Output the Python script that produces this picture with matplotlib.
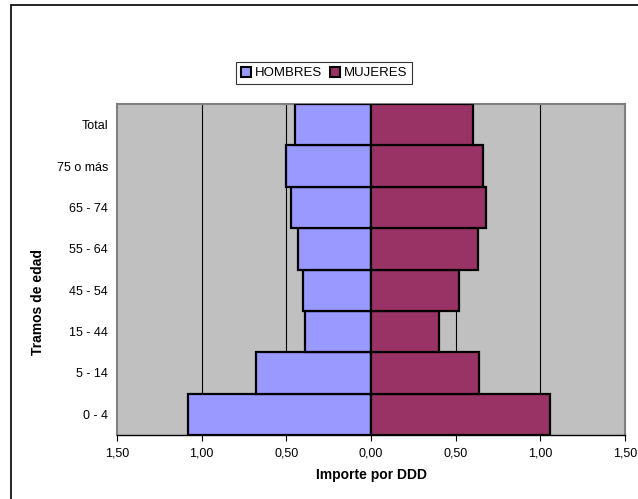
import matplotlib
matplotlib.use("Agg")
import matplotlib.pyplot as plt
import matplotlib.patches as patches
from matplotlib.ticker import FixedLocator, FuncFormatter

plt.rcParams['font.family'] = ['Liberation Sans', 'DejaVu Sans']

# --- data ---
tramos = ["0 - 4", "5 - 14", "15 - 44", "45 - 54", "55 - 64", "65 - 74", "75 o más", "Total"]
hombres = [1.08, 0.68, 0.39, 0.40, 0.43, 0.47, 0.50, 0.45]
mujeres = [1.06, 0.64, 0.40, 0.52, 0.63, 0.68, 0.66, 0.60]

color_h = "#9999FF"
color_m = "#993366"

fig = plt.figure(figsize=(6.38, 4.99), dpi=100)
ax = fig.add_axes([117 / 638, 1 - 435 / 499, 508 / 638, 331 / 499])
ax.set_facecolor("#C0C0C0")

ypos = list(range(len(tramos)))
ax.barh(ypos, [-v for v in hombres], height=1.0, color=color_h,
        edgecolor="black", linewidth=1.6, label="HOMBRES", zorder=3)
ax.barh(ypos, mujeres, height=1.0, color=color_m,
        edgecolor="black", linewidth=1.6, label="MUJERES", zorder=3)

# vertical grid
for gx in [-1.0, -0.5, 0.5, 1.0]:
    ax.axvline(gx, color="black", linewidth=0.8, zorder=1)

ax.set_xlim(-1.5, 1.5)
ax.set_ylim(-0.5, len(tramos) - 0.5)
ax.xaxis.set_major_locator(FixedLocator([-1.5, -1.0, -0.5, 0.0, 0.5, 1.0, 1.5]))
ax.xaxis.set_major_formatter(FuncFormatter(lambda v, p: f"{abs(v):.2f}".replace(".", ",")))
ax.set_yticks(ypos)
ax.set_yticklabels(tramos)
ax.tick_params(axis="x", length=4, width=0.8, labelsize=9, pad=5)
ax.tick_params(axis="y", length=0, labelsize=9, pad=6.5)

for side in ["top", "right", "left"]:
    ax.spines[side].set_color("#808080")
    ax.spines[side].set_linewidth(1.5)
ax.spines["bottom"].set_color("black")
ax.spines["bottom"].set_linewidth(1.0)

ax.set_xlabel("Importe por DDD", fontsize=10, fontweight="bold", labelpad=6)
fig.text(38 / 638, 1 - 302 / 499, "Tramos de edad", rotation=90, fontsize=10,
         fontweight="bold", ha="center", va="center")

leg = fig.legend(loc="center", bbox_to_anchor=(324 / 638, 1 - 73 / 499), ncol=2,
                 frameon=True, fancybox=False, fontsize=9.5, handlelength=0.8,
                 handleheight=0.8, handletextpad=0.25, columnspacing=0.6,
                 borderpad=0.35, borderaxespad=0, edgecolor="black")
leg.get_frame().set_linewidth(0.8)
for h in leg.legend_handles:
    h.set_linewidth(1.5)

# outer chart border
fig.patches.append(patches.Rectangle((11 / 638, -0.1), 1.2, 1 - 5 / 499 + 0.1,
                                     transform=fig.transFigure, fill=False,
                                     edgecolor="black", linewidth=1.2))

fig.savefig("out.png", dpi=100)
